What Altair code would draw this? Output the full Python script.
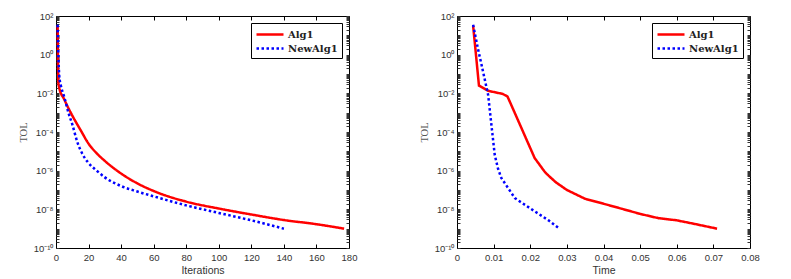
import altair as alt
import pandas as pd

# ---- data ----
left_red_iter = [1, 1.5, 2, 5, 10, 15, 20, 25, 30, 40, 50, 60, 80, 100, 120, 140, 160, 177]
left_red_tol = [3.2e1, 3.2e-2, 1.9e-2, 5.0e-3, 7.1e-4, 1.3e-4, 2.5e-5, 7.9e-6, 3.2e-6, 7.1e-7,
                2.2e-7, 8.9e-8, 2.5e-8, 1.1e-8, 5.4e-9, 2.8e-9, 1.7e-9, 1.0e-9]
left_blue_iter = [1, 2, 3, 5, 8, 10, 13, 16, 20, 25, 30, 40, 50, 60, 80, 100, 120, 140]
left_blue_tol = [3.5e1, 7.9e-2, 2.5e-2, 6.8e-3, 7.9e-4, 2.5e-4, 3.2e-5, 7.9e-6, 2.5e-6, 1.0e-6,
                 4.5e-7, 1.6e-7, 8.3e-8, 4.7e-8, 1.6e-8, 6.5e-9, 2.7e-9, 1.0e-9]

right_red_time = [0.0044, 0.006, 0.0085, 0.0125, 0.0138, 0.0176, 0.0212, 0.024, 0.025, 0.027,
                  0.030, 0.035, 0.040, 0.045, 0.050, 0.055, 0.060, 0.065, 0.071]
right_red_tol = [3.2e1, 2.5e-2, 1.35e-2, 9.3e-3, 6.8e-3, 1.6e-4, 4.5e-6, 8.5e-7, 5.5e-7, 2.5e-7,
                 1.0e-7, 3.5e-8, 1.95e-8, 1.07e-8, 5.8e-9, 3.5e-9, 2.7e-9, 1.74e-9, 1.0e-9]
right_blue_time = [0.0044, 0.0057, 0.0067, 0.0085, 0.0094, 0.0103, 0.0112, 0.0121, 0.0158,
                   0.0212, 0.025, 0.028]
right_blue_tol = [3.5e1, 2.1, 3.0e-1, 8.3e-3, 2.3e-4, 6.6e-6, 1.26e-6, 4.2e-7, 3.8e-8, 7.9e-9,
                  2.7e-9, 1.0e-9]

series_names = ["Alg1", "NewAlg1"]
series_colors = ["#ff0000", "#0000ff"]

left_x_ticks = [0, 20, 40, 60, 80, 100, 120, 140, 160, 180]
right_x_ticks = [0, 0.01, 0.02, 0.03, 0.04, 0.05, 0.06, 0.07, 0.08]


def make_df(xs_a, ys_a, xs_b, ys_b):
    rows = []
    for i, (x, y) in enumerate(zip(xs_a, ys_a)):
        rows.append({"x": x, "tol": y, "alg": series_names[0], "i": i})
    for i, (x, y) in enumerate(zip(xs_b, ys_b)):
        rows.append({"x": x, "tol": y, "alg": series_names[1], "i": i})
    return pd.DataFrame(rows)


# y ticks: every decade multiple (minor) with labels on even exponents
y_tick_values = []
for k in range(-10, 2):
    for m in range(1, 10):
        y_tick_values.append(float(f"{m}e{k}"))
y_tick_values.append(100.0)

sup = {"2": "10²", "0": "10⁰", "-2": "10⁻²", "-4": "10⁻⁴", "-6": "10⁻⁶", "-8": "10⁻⁸", "-10": "10⁻¹⁰"}
e_expr = "round(log(datum.value)/LN10)"
is_dec = "abs(log(datum.value)/LN10 - round(log(datum.value)/LN10)) < 0.001"
lab = "''"
for e, s in sup.items():
    lab = f"({e_expr} == {e} ? '{s}' : {lab})"
y_label_expr = f"{is_dec} ? {lab} : ''"

TICK_FONT = "Liberation Sans"
TICK_COLOR = "#333333"


def panel(df, xtitle, xdomain, xticks, xfmt, interp):
    xscale = alt.Scale(domain=xdomain, nice=False, zero=False)
    yscale = alt.Scale(type="log", domain=[1e-10, 1e2], nice=False)
    leg = alt.Legend(title=None, orient="top-right", offset=7, strokeColor="black",
                     fillColor="white", padding=4, cornerRadius=0,
                     labelFont="DejaVu Serif", labelFontWeight="bold", labelFontSize=10,
                     labelColor="#222222", symbolType="M-1,0L3.5,0", symbolSize=144,
                     symbolStrokeWidth=2.5, rowPadding=1, labelOffset=18)
    lines = alt.Chart(df).mark_line(strokeWidth=2.5, strokeCap="butt",
                                    interpolate=interp).encode(
        x=alt.X("x:Q", scale=xscale,
                axis=alt.Axis(values=xticks, format=xfmt, title=xtitle, domain=False,
                              offset=-4, tickSize=4, tickColor="black", labelPadding=4,
                              grid=False, labelFont=TICK_FONT, labelFontSize=9.5,
                              labelColor=TICK_COLOR, titleFont=TICK_FONT, titleFontSize=10.5,
                              titleFontWeight="normal", titleColor="#333333", titlePadding=4,
                              labelFlush=False)),
        y=alt.Y("tol:Q", scale=yscale,
                axis=alt.Axis(values=y_tick_values, labelExpr=y_label_expr, title="TOL",
                              domain=False, offset=-3, tickSize=3, tickColor="#333333",
                              labelPadding=3, grid=False, labelFont=TICK_FONT,
                              labelFontSize=9.5, labelColor=TICK_COLOR,
                              titleFont="Liberation Serif", titleFontSize=10.5,
                              titleFontWeight="normal", titleColor="#555555",
                              titlePadding=5, labelFlush=False, labelOverlap=False)),
        color=alt.Color("alg:N", scale=alt.Scale(domain=series_names, range=series_colors),
                        legend=leg),
        strokeDash=alt.StrokeDash("alg:N", scale=alt.Scale(domain=series_names,
                                                           range=[[1, 0], [2.5, 2.5]]),
                                  legend=leg),
        order="i:Q",
    )
    frame = alt.Chart(df).mark_line(opacity=0).encode(
        x=alt.X("x:Q", scale=xscale,
                axis=alt.Axis(orient="top", values=xticks, labels=False, title=None,
                              domain=False, offset=-4, tickSize=4, tickColor="black",
                              grid=False)),
        y=alt.Y("tol:Q", scale=yscale,
                axis=alt.Axis(orient="right", values=y_tick_values, labels=False, title=None,
                              domain=False, offset=-3, tickSize=3, tickColor="#333333",
                              grid=False)),
        detail="alg:N",
    )
    return alt.layer(lines, frame).resolve_scale(x="independent", y="independent").properties(
        width=293, height=232,
        view=alt.ViewBackground(stroke="black", strokeWidth=1, fill="white"))


left = panel(make_df(left_red_iter, left_red_tol, left_blue_iter, left_blue_tol),
             "Iterations", [0, 180], left_x_ticks, "d", "monotone")
right = panel(make_df(right_red_time, right_red_tol, right_blue_time, right_blue_tol),
              "Time", [0, 0.08], right_x_ticks, "~g", "linear")

chart = alt.hconcat(left, right, spacing=60).resolve_legend(
    color="independent", strokeDash="independent").properties(
    padding={"left": 9, "top": 2, "right": 5, "bottom": 0}).configure_view(
    stroke="black", strokeWidth=1).configure(background="white")

chart.save("out.html", embed_options={"renderer": "svg", "actions": False})
